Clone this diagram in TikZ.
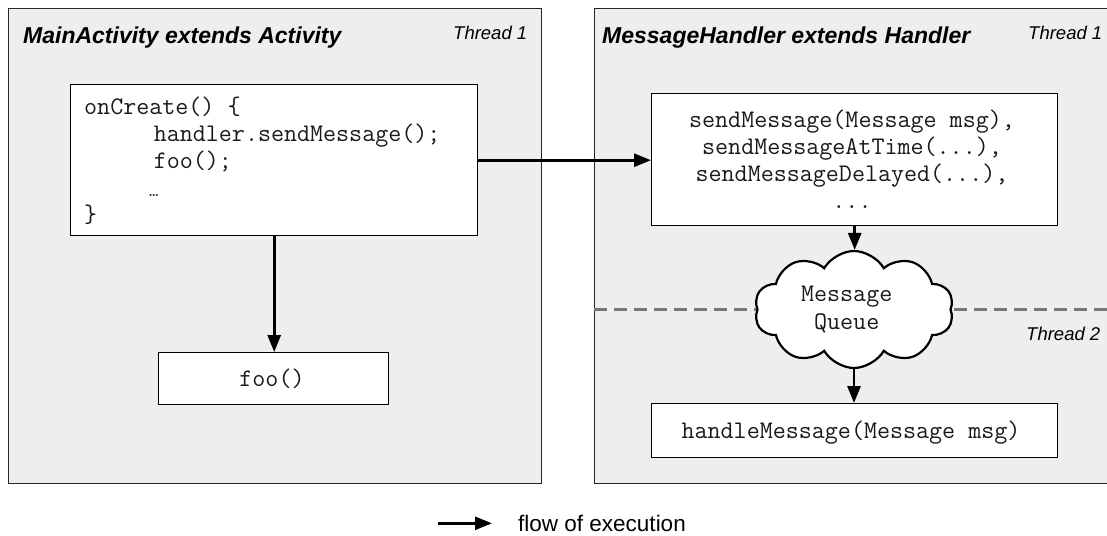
\documentclass[tikz,border=0pt]{standalone}
\usepackage{fontspec}
\setmainfont{Liberation Sans}
\usetikzlibrary{shapes.symbols,arrows.meta}
\definecolor{panelgray}{HTML}{EEEEEE}
\definecolor{dashgray}{HTML}{777777}
\definecolor{codeink}{HTML}{1A1A1A}
\begin{document}
\begin{tikzpicture}[x=1pt,y=-1pt,
  panel/.style={draw=black!85, line width=1.4pt, fill=panelgray, inner sep=0pt, anchor=north west},
  codebox/.style={draw=black, line width=1.4pt, fill=white, inner sep=0pt, anchor=north west},
  code/.style={font=\fontsize{25.3}{27}\selectfont\ttfamily, text=codeink, inner sep=0pt},
  flow/.style={line width=2.8pt, -{Triangle[length=17pt,width=13pt]}},
  title/.style={font=\fontsize{23}{27}\selectfont\bfseries\itshape, anchor=base west, inner sep=0pt},
  thread/.style={font=\fontsize{18.5}{22}\selectfont\itshape, anchor=base west, inner sep=0pt},
  queue/.style={cloud, cloud puffs=10, cloud puff arc=120, aspect=1.7, draw=black, line width=2.2pt,
    fill=white, minimum width=199pt, minimum height=117pt, inner sep=0pt},
  divider/.style={draw=dashgray, line width=2.7pt, dash pattern=on 13pt off 7pt}]

\useasboundingbox (0,0) rectangle (1107,535);
\clip (0,0) rectangle (1107,535);
\fill[white] (0,0) rectangle (1107,535);

% two class panels (the right one runs off the page edge)
\node[panel, minimum width=533pt, minimum height=475pt] (mainpanel) at (8,8) {};
\node[panel, minimum width=530pt, minimum height=475pt] (handlerpanel) at (594,8) {};

\node[title] (maintitle) at (23,44) {MainActivity extends Activity};
\node[thread] (mainthread) at (453,39.5) {Thread 1};
\node[title] (handlertitle) at (602,44) {MessageHandler extends Handler};
\node[thread] (handlerthread) at (1028,39.5) {Thread 1};

% onCreate body
\node[codebox, minimum width=407pt, minimum height=151pt] (oncreate) at (70,84) {};
\node[code, anchor=base west] (oc1) at (84,114) {onCreate() \{};
\node[code, anchor=base west] (oc2) at (153.6,141) {handler.sendMessage();};
\node[code, anchor=base west] (oc3) at (153.6,168) {foo();};
\node[code, anchor=base west, font=\fontsize{18}{20}\selectfont\ttfamily] (oc4) at (149,196) {\textellipsis};
\node[code, anchor=base west] (oc5) at (84,222) {\}};

% foo() call
\node[codebox, minimum width=230pt, minimum height=52pt] (foo) at (158,352) {};
\node[code, anchor=base] (footext) at (272,386) {foo()};

% send methods
\node[codebox, minimum width=406pt, minimum height=132pt] (sendmsg) at (651,93) {};
\node[code, anchor=base] (sm1) at (852,127) {sendMessage(Message msg),};
\node[code, anchor=base] (sm2) at (852,154) {sendMessageAtTime(...),};
\node[code, anchor=base] (sm3) at (852,181.5) {sendMessageDelayed(...),};
\node[code, anchor=base] (sm4) at (852,208.5) {...};

% thread boundary and message queue
\coordinate (divl) at (594,309.5);
\coordinate (divr) at (1120,309.5);
\draw[divider] (divl) -- (divr);
\node[queue] (mq) at (854,309.5) {};
\node[code, anchor=base] (mq1) at (846.7,301.7) {Message};
\node[code, anchor=base] (mq2) at (846.7,329) {Queue};
\node[thread] (thread2) at (1026,340) {Thread 2};

% handler
\node[codebox, minimum width=406pt, minimum height=53.5pt] (handle) at (651,403) {};
\node[code, anchor=base] (hm) at (851,438) {handleMessage(Message msg)};

% flow of execution
\draw[flow] (oncreate.east) -- (oncreate.east -| sendmsg.west);
\draw[flow] (oncreate.south) -- (oncreate.south |- foo.north);
\draw[flow] (sendmsg.south) -- (sendmsg.south |- mq.north);
\draw[flow] (mq.south) -- (mq.south |- handle.north);

% legend
\coordinate (legA) at (438,523.3);
\coordinate (legB) at (492,523.3);
\draw[flow, line width=2.4pt] (legA) -- (legB);
\node[font=\fontsize{22.5}{26}\selectfont, anchor=base west, inner sep=0pt] (legtext) at (518,531.7) {flow of execution};
\end{tikzpicture}
\end{document}
